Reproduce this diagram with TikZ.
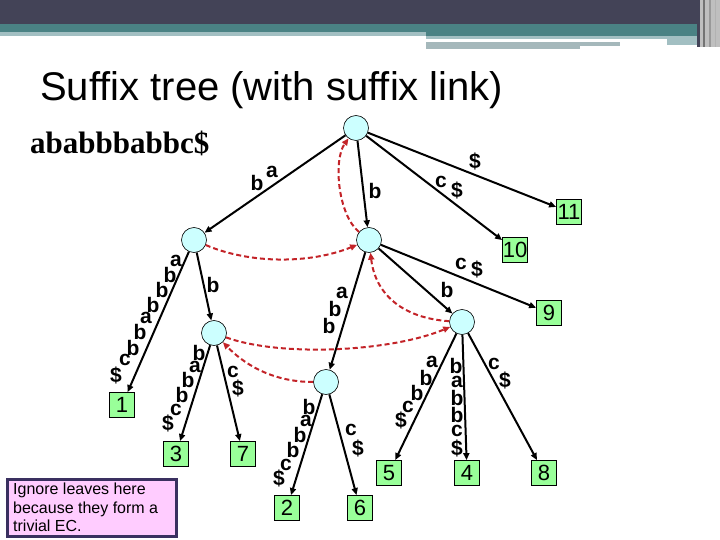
\documentclass[tikz,border=0pt]{standalone}
\usepackage{fontspec}
\setmainfont{Liberation Sans}
\newfontfamily\timesfont{Liberation Serif}
\usetikzlibrary{arrows.meta}
\definecolor{hdark}{RGB}{67,67,87}
\definecolor{hteal}{RGB}{74,130,132}
\definecolor{hlight}{RGB}{162,191,194}
\definecolor{hgrey}{RGB}{165,184,187}
\definecolor{nodecyan}{RGB}{204,255,255}
\definecolor{leafgreen}{RGB}{153,255,153}
\definecolor{linkred}{RGB}{195,35,40}
\definecolor{boxpink}{RGB}{255,204,255}
\definecolor{boxborder}{RGB}{58,48,96}
\begin{document}
\begin{tikzpicture}[x=1pt,y=-1pt,
  inode/.style={circle,draw=black,line width=0.6pt,fill=nodecyan,minimum size=25pt,inner sep=0pt},
  leaf/.style={rectangle,draw=black,line width=0.8pt,fill=leafgreen,minimum size=25pt,inner sep=0pt,font=\fontsize{22}{22}\selectfont},
  edge/.style={line width=2pt,-{Triangle[length=7pt,width=6pt]}},
  link/.style={draw=linkred,line width=2pt,dash pattern=on 5pt off 3pt,-{Triangle[length=7pt,width=6pt]}},
  lbl/.style={font=\bfseries\fontsize{21}{21}\selectfont,inner sep=0pt}]
\useasboundingbox (0,0) rectangle (720,540);
% header
\fill[hdark] (0,0) rectangle (720,24);
\fill[hteal] (0,24) rectangle (697,32);
\fill[hlight] (0,32) rectangle (426,36);
\fill[hteal] (426,32) rectangle (697,36);
\fill[hlight] (426,36) rectangle (697,39);
\fill[hlight] (667,39) rectangle (697,45);
\fill[hgrey] (426,42) rectangle (620,46);
\fill[hgrey] (426,46) rectangle (580,49);
\fill[black!25] (697,0) rectangle (720,47);
\fill[hdark] (697,0) rectangle (700,47);
\fill[black!55] (703,0) rectangle (705,47);
\fill[black!40] (709,0) rectangle (711,47);
\fill[black!30] (715,0) rectangle (716,47);
% title
\node[anchor=base west,inner sep=0pt,font=\fontsize{40}{40}\selectfont] (title) at (40,101) {Suffix tree (with suffix link)};
\node[anchor=base west,inner sep=0pt,font=\timesfont\bfseries\fontsize{31}{31}\selectfont] (word) at (30,154) {ababbbabbc\$};
% internal nodes
\node[inode] (root) at (356,128) {};
\node[inode] (A) at (194,240) {};
\node[inode] (B) at (369,240) {};
\node[inode] (D) at (214,333) {};
\node[inode] (E) at (326,382) {};
\node[inode] (C) at (462,322) {};
% leaves
\node[leaf] (l1) at (122,405) {1};
\node[leaf] (l3) at (176,454) {3};
\node[leaf] (l7) at (243,454) {7};
\node[leaf] (l2) at (287,508) {2};
\node[leaf] (l6) at (360,508) {6};
\node[leaf] (l5) at (389,473) {5};
\node[leaf] (l4) at (467,473) {4};
\node[leaf] (l8) at (544,473) {8};
\node[leaf] (l9) at (549,313) {9};
\node[leaf] (l10) at (515,250) {10};
\node[leaf] (l11) at (569,212) {11};
% tree edges
\draw[edge] (root) -- (A);
\draw[edge] (root) -- (B);
\draw[edge] (root) -- (l10);
\draw[edge] (root) -- (l11);
\draw[edge] (B) -- (l9);
\draw[edge] (B) -- (C);
\draw[edge] (B) -- (E);
\draw[edge] (A) -- (l1);
\draw[edge] (A) -- (D);
\draw[edge] (D) -- (l3);
\draw[edge] (D) -- (l7);
\draw[edge] (E) -- (l2);
\draw[edge] (E) -- (l6);
\draw[edge] (C) -- (l5);
\draw[edge] (C) -- (l4);
\draw[edge] (C) -- (l8);
% suffix links
\draw[link] (A) .. controls (250,264) and (310,264) .. (B);
\draw[link] (B) .. controls (338,215) and (333,160) .. (root);
\draw[link] (C) .. controls (400,318) and (375,292) .. (B);
\draw[link] (D) .. controls (280,357) and (390,352) .. (C);
\draw[link] (E) .. controls (270,382) and (242,362) .. (D);
% edge labels
\foreach \x/\y/\c [count=\i] in {257/183/b,272/172/a} \node[lbl] (rA\i) at (\x,\y) {\c};
\node[lbl] (rB) at (375,191) {b};
\foreach \x/\y/\c [count=\i] in {441/182/c,457/190/\$} \node[lbl] (rT\i) at (\x,\y) {\c};
\node[lbl] (rE) at (475,161) {\$};
\foreach \x/\y/\c [count=\i] in {461/264/c,477/269/\$} \node[lbl] (bN\i) at (\x,\y) {\c};
\node[lbl] (bC) at (447,290) {b};
\foreach \x/\y/\c [count=\i] in {342/293/a,335/309/b,329/326/b} \node[lbl] (bE\i) at (\x,\y) {\c};
\node[lbl] (aD) at (213,285) {b};
\foreach \x/\y/\c [count=\i] in {176/261/a,170/275/b,162/290/b,153/305/b,146/318/a,140/332/b,133/348/b,125/360/c,116/375/\$} \node[lbl] (aO\i) at (\x,\y) {\c};
\foreach \x/\y/\c [count=\i] in {199/353/b,195/367/a,188/380/b,182/395/b,176/410/c,168/423/\$} \node[lbl] (dT\i) at (\x,\y) {\c};
\foreach \x/\y/\c [count=\i] in {233/372/c,238/388/\$} \node[lbl] (dS\i) at (\x,\y) {\c};
\foreach \x/\y/\c [count=\i] in {309/407/b,306/421/a,300/435/b,293/450/b,286/465/c,279/478/\$} \node[lbl] (eT\i) at (\x,\y) {\c};
\foreach \x/\y/\c [count=\i] in {351/430/c,358/448/\$} \node[lbl] (eS\i) at (\x,\y) {\c};
\foreach \x/\y/\c [count=\i] in {432/362/a,426/378/b,417/393/b,408/407/c,401/420/\$} \node[lbl] (cF\i) at (\x,\y) {\c};
\foreach \x/\y/\c [count=\i] in {456/366/b,457/382/a,457/398/b,457/415/b,457/431/c,457/448/\$} \node[lbl] (cV\i) at (\x,\y) {\c};
\foreach \x/\y/\c [count=\i] in {494/364/c,505/380/\$} \node[lbl] (cE\i) at (\x,\y) {\c};
% note box
\node[draw=boxborder,line width=3pt,fill=boxpink,anchor=north west,minimum width=169pt,minimum height=57pt,inner sep=0pt] (note) at (6,478) {};
\node[anchor=north west,inner sep=0pt,align=left,font=\fontsize{16}{18.5}\selectfont] (notetext) at (13,483) {Ignore leaves here\\because they form a\\trivial EC.};
\end{tikzpicture}
\end{document}
